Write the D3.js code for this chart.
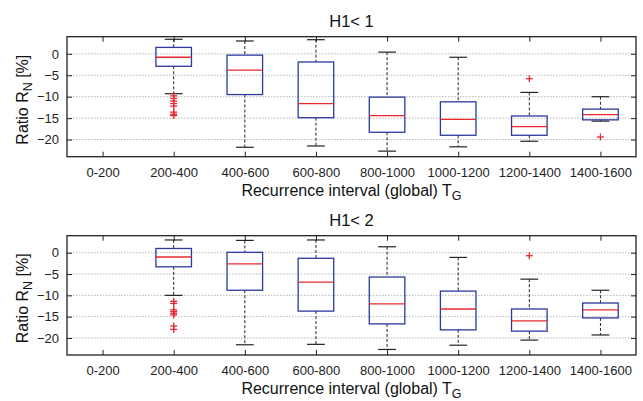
<!DOCTYPE html>
<html>
<head>
<meta charset="utf-8">
<script src="https://cdn.jsdelivr.net/npm/d3@7"></script>
<style>
  body { margin: 0; background: #fff; }
  svg { display: block; font-family: "Liberation Sans", Arial, Helvetica, sans-serif; }
</style>
</head>
<body>
<div id="chart"></div>
<script>
// categories (recurrence interval bins)
const categories = ["0-200", "200-400", "400-600", "600-800", "800-1000", "1000-1200", "1200-1400", "1400-1600"];
const yTicks = [0, -5, -10, -15, -20];

// panel 1: H1< 1  (null = no data for that bin)
const p1WhiskerHigh = [null, 3.4, 3.0, 3.3, 0.4, -0.8, -9.0, -10.0];
const p1Q3          = [null, 1.5, -0.3, -1.9, -10.1, -11.2, -14.5, -12.9];
const p1Median      = [null, -0.8, -3.8, -11.6, -14.4, -15.3, -17.0, -14.2];
const p1Q1          = [null, -2.9, -9.5, -14.9, -18.3, -19.0, -19.0, -15.4];
const p1WhiskerLow  = [null, -9.3, -21.8, -21.5, -22.7, -21.7, -20.4, -15.7];
const p1Outliers    = [[1, -9.8], [1, -10.4], [1, -11.0], [1, -11.6], [1, -12.2], [1, -13.6], [1, -14.1], [1, -14.4], [6, -5.8], [7, -19.4]];

// panel 2: H1< 2
const p2WhiskerHigh = [null, 3.0, 2.9, 3.0, 1.4, -1.1, -6.2, -8.8];
const p2Q3          = [null, 1.0, 0.1, -1.3, -5.7, -9.0, -13.2, -11.8];
const p2Median      = [null, -1.0, -2.6, -6.9, -12.0, -13.2, -16.0, -13.4];
const p2Q1          = [null, -3.3, -8.8, -13.7, -16.7, -18.1, -18.4, -15.3];
const p2WhiskerLow  = [null, -10.0, -21.6, -21.5, -22.7, -21.7, -20.5, -19.3];
const p2Outliers    = [[1, -11.4], [1, -11.9], [1, -13.4], [1, -13.8], [1, -14.2], [1, -14.6], [1, -17.2], [1, -18.0], [6, -0.7]];

const W = 643, H = 401;
const svg = d3.select("#chart").append("svg").attr("width", W).attr("height", H);

const blue = "#2b3a9c", red = "#e8282e";

function drawPanel(top, bottom, title, hi, q3, med, q1, lo, outliers){
    const x = d3.scaleLinear().domain([0.5, categories.length + 0.5]).range([67, 636]);
    const y = d3.scaleLinear().domain([-24, 4]).range([bottom, top]);
    const g = svg.append("g");
    const bw = x(1.25) - x(1); // half box width
    const cw = bw / 2;         // half cap width

    // grid
    g.selectAll(".grid").data(yTicks).enter().append("line")
        .attr("x1", x.range()[0]).attr("x2", x.range()[1])
        .attr("y1", d => y(d)).attr("y2", d => y(d))
        .attr("stroke", "#b8b8b8").attr("stroke-width", 1)
        .attr("stroke-dasharray", "1.5,1.5");

    // axes, MATLAB style box with inward ticks
    const yl = g.append("g").attr("transform", "translate(" + x.range()[0] + ",0)")
        .call(d3.axisLeft(y).tickValues(yTicks).tickSizeInner(-5).tickSizeOuter(0).tickPadding(8));
    const yr = g.append("g").attr("transform", "translate(" + x.range()[1] + ",0)")
        .call(d3.axisRight(y).tickValues(yTicks).tickSizeInner(-5).tickSizeOuter(0).tickFormat(""));
    const xb = g.append("g").attr("transform", "translate(0," + bottom + ")")
        .call(d3.axisBottom(x).tickValues(d3.range(1, categories.length + 1))
            .tickFormat(d => categories[d - 1]).tickSizeInner(-5).tickSizeOuter(0).tickPadding(11));
    const xt = g.append("g").attr("transform", "translate(0," + top + ")")
        .call(d3.axisTop(x).tickValues(d3.range(1, categories.length + 1))
            .tickFormat("").tickSizeInner(-5).tickSizeOuter(0));
    [yl, yr, xb, xt].forEach(a => {
        a.select(".domain").remove();
        a.selectAll("line").attr("stroke", "#222");
        a.selectAll("text").attr("fill", "#222").style("font-size", "13px");
    });
    g.append("rect")
        .attr("x", x.range()[0]).attr("y", top)
        .attr("width", x.range()[1] - x.range()[0]).attr("height", bottom - top)
        .attr("fill", "none").attr("stroke", "#222").attr("stroke-width", 1.3);

    const idx = d3.range(categories.length).filter(i => hi[i] != null);
    const boxes = g.selectAll(".bx").data(idx).enter().append("g");

    // dashed whiskers
    boxes.append("line")
        .attr("x1", i => x(i + 1)).attr("x2", i => x(i + 1))
        .attr("y1", i => y(hi[i])).attr("y2", i => y(q3[i]))
        .attr("stroke", "#222").attr("stroke-dasharray", "3,2");
    boxes.append("line")
        .attr("x1", i => x(i + 1)).attr("x2", i => x(i + 1))
        .attr("y1", i => y(q1[i])).attr("y2", i => y(lo[i]))
        .attr("stroke", "#222").attr("stroke-dasharray", "3,2");
    // caps
    [hi, lo].forEach(arr => {
        boxes.append("line")
            .attr("x1", i => x(i + 1) - cw).attr("x2", i => x(i + 1) + cw)
            .attr("y1", i => y(arr[i])).attr("y2", i => y(arr[i]))
            .attr("stroke", "#222").attr("stroke-width", 1.2);
    });
    // boxes
    boxes.append("rect")
        .attr("x", i => x(i + 1) - bw).attr("width", bw * 2)
        .attr("y", i => y(q3[i])).attr("height", i => y(q1[i]) - y(q3[i]))
        .attr("fill", "none").attr("stroke", blue).attr("stroke-width", 1.3);
    // medians
    boxes.append("line")
        .attr("x1", i => x(i + 1) - bw).attr("x2", i => x(i + 1) + bw)
        .attr("y1", i => y(med[i])).attr("y2", i => y(med[i]))
        .attr("stroke", red).attr("stroke-width", 1.3);

    // outliers as '+'
    const os = 3.5;
    const out = g.selectAll(".out").data(outliers).enter().append("g")
        .attr("transform", d => "translate(" + x(d[0] + 1) + "," + y(d[1]) + ")");
    out.append("line").attr("x1", -os).attr("x2", os).attr("stroke", red).attr("stroke-width", 1.3);
    out.append("line").attr("y1", -os).attr("y2", os).attr("stroke", red).attr("stroke-width", 1.3);

    // title
    g.append("text").attr("x", (x.range()[0] + x.range()[1]) / 2).attr("y", top - 9.5)
        .attr("text-anchor", "middle").style("font-size", "16.5px").attr("fill", "#111").text(title);

    // x label
    const xlab = g.append("text").attr("x", (x.range()[0] + x.range()[1]) / 2).attr("y", bottom + 39)
        .attr("text-anchor", "middle").style("font-size", "16px").attr("fill", "#111");
    xlab.append("tspan").text("Recurrence interval (global) T");
    xlab.append("tspan").attr("dy", 4).style("font-size", "12.5px").text("G");

    // y label
    const ylab = g.append("text")
        .attr("transform", "translate(28," + ((top + bottom) / 2 + 3) + ") rotate(-90)")
        .attr("text-anchor", "middle").style("font-size", "16px").attr("fill", "#111");
    ylab.append("tspan").text("Ratio R");
    ylab.append("tspan").attr("dy", 4).style("font-size", "12.5px").text("N");
    ylab.append("tspan").attr("dy", -4).text(" [%]");
}

drawPanel(36.7, 156.7, "H1< 1", p1WhiskerHigh, p1Q3, p1Median, p1Q1, p1WhiskerLow, p1Outliers);
drawPanel(235.7, 355, "H1< 2", p2WhiskerHigh, p2Q3, p2Median, p2Q1, p2WhiskerLow, p2Outliers);
</script>
</body>
</html>
